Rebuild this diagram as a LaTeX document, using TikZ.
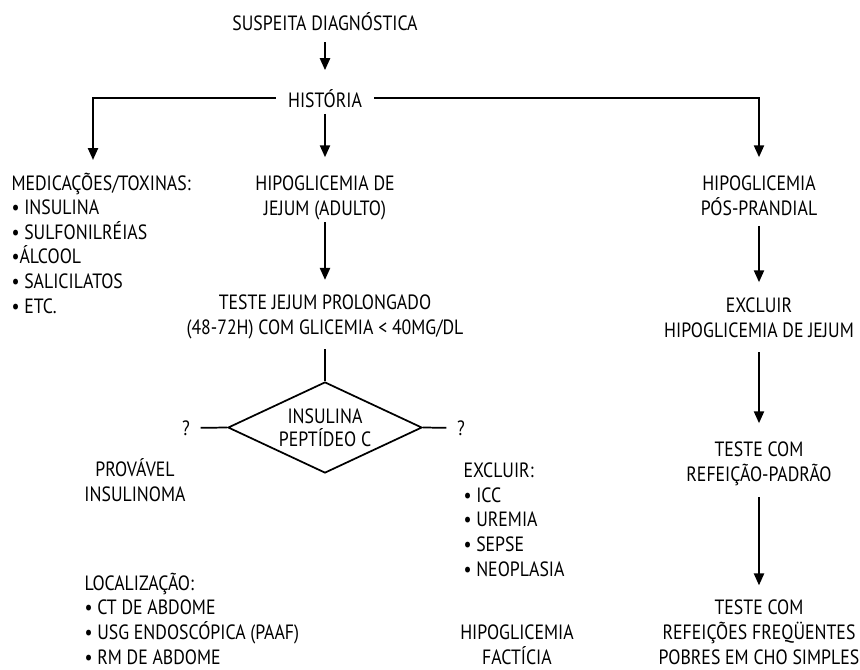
\documentclass[tikz,border=0pt]{standalone}
\usepackage{fontspec}
\setmainfont[FakeStretch=0.86]{PT Sans}
\usetikzlibrary{arrows.meta,shapes.geometric}

\newcommand{\fs}{\fontsize{15.5}{18.4}\selectfont}

\tikzset{every picture/.style={line width=0.75pt}}
\tikzset{
  txt/.style={inner sep=0.75pt, align=center, font=\fs, anchor=base},
  lst/.style={inner sep=0.75pt, align=left, font=\fs, anchor=base west},
  arr/.style={line width=1.7pt, -{Triangle[width=7.5pt,length=9pt]}},
  lin/.style={line width=1.3pt},
}

\begin{document}
\begin{tikzpicture}[x=0.75pt,y=0.75pt,yscale=-1,xscale=1]
\path [use as bounding box] (0,0) rectangle (860,669);

% Text Node
\node (sus) [txt] at (325,30) {SUSPEITA DIAGNÓSTICA};
% Text Node
\node (his) [txt] at (325,107) {HISTÓRIA};
% Text Node
\node (med) [lst] at (10,313) {MEDICAÇÕES/TOXINAS:\\• INSULINA\\• SULFONILRÉIAS\\•ÁLCOOL\\• SALICILATOS\\• ETC.};
% Text Node
\node (jej) [txt] at (325,215) {HIPOGLICEMIA DE\\JEJUM (ADULTO)};
% Text Node
\node (pos) [txt] at (759,215) {HIPOGLICEMIA\\PÓS-PRANDIAL};
% Text Node
\node (tjp) [txt] at (325,334) {TESTE JEJUM PROLONGADO\\(48-72H) COM GLICEMIA < 40MG/DL};
%Shape: Diamond
\node (ins) [diamond, draw, lin, inner sep=1pt, shape aspect=2.1, minimum width=145.5pt, minimum height=68.25pt, align=center, font={\fontsize{15.5}{17.3}\selectfont}] at (325,427.5) {INSULINA\\PEPTÍDEO C};
% Text Node
\node (ql) [font=\fs, inner sep=0.75pt] at (186,428) {?};
% Text Node
\node (qr) [font=\fs, inner sep=0.75pt] at (461,428) {?};
% Text Node
\node (prv) [txt] at (135,501) {PROVÁVEL\\INSULINOMA};
% Text Node
\node (exc) [lst] at (462,576) {EXCLUIR:\\• ICC\\• UREMIA\\• SEPSE\\• NEOPLASIA};
% Text Node
\node (loc) [lst] at (83,664) {LOCALIZAÇÃO:\\• CT DE ABDOME\\• USG ENDOSCÓPICA (PAAF)\\• RM DE ABDOME};
% Text Node
\node (fac) [txt] at (517,664) {HIPOGLICEMIA\\FACTÍCIA};
% Text Node
\node (exj) [txt] at (759,337) {EXCLUIR\\HIPOGLICEMIA DE JEJUM};
% Text Node
\node (tcp) [txt] at (759,481) {TESTE COM\\REFEIÇÃO-PADRÃO};
% Text Node
\node (tcf) [txt] at (759,664) {TESTE COM\\REFEIÇÕES FREQÜENTES\\POBRES EM CHO SIMPLES};

\coordinate (mtop) at (93,160);

%Straight Lines
\draw [arr, shorten <=8pt, shorten >=13pt] (sus) -- (his);
%Straight Lines
\draw [arr, shorten <=8pt] (his.west) -| (mtop);
%Straight Lines
\draw [arr, shorten <=8pt, shorten >=12.75pt] (his.east) -| (pos.north);
%Straight Lines
\draw [arr, shorten <=3.75pt, shorten >=12.75pt] (his) -- (jej);
%Straight Lines
\draw [arr, shorten <=1pt, shorten >=10pt] (jej) -- (tjp);
%Straight Lines
\draw [lin, shorten <=7pt] (tjp) -- (ins);
%Straight Lines
\draw [lin, shorten >=7pt] (ins.west) -- (ql);
%Straight Lines
\draw [lin, shorten >=7pt] (ins.east) -- (qr);
%Straight Lines
\draw [arr, shorten <=6.75pt, shorten >=10.5pt] (pos) -- (exj);
%Straight Lines
\draw [arr, shorten <=10pt, shorten >=12.75pt] (exj) -- (tcp);
%Straight Lines
\draw [arr, shorten <=8pt, shorten >=10pt] (tcp) -- (tcf);

\end{tikzpicture}
\end{document}
